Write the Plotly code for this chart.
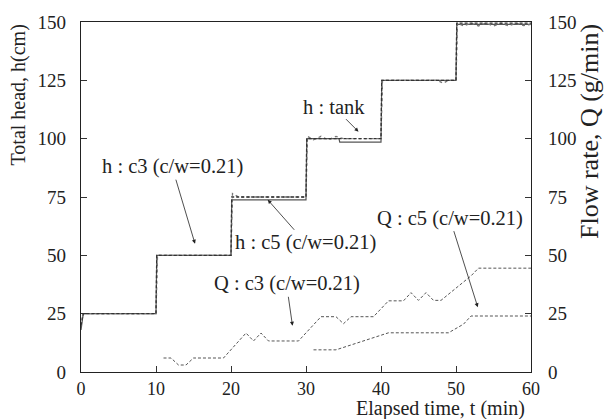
import plotly.graph_objects as go

# ---- data ----
t_tank = [0, 0.3, 10, 10.1, 20, 20.1, 30, 30.1, 34.4, 34.5, 39.8, 40, 40.1, 50, 50.1, 60]
h_tank = [18, 25, 25, 50, 50, 73.8, 73.8, 100, 100, 98.5, 98.5, 98.5, 125, 125, 149, 149]

t_c3 = [0, 0.3, 10, 10.1, 20, 20.1, 30, 30.1, 40, 40.1, 50, 50.1, 60]
h_c3 = [20, 25, 25, 50, 50, 75, 75, 100, 100, 125, 125, 149.5, 149.5]

t_c5 = [0, 0.3, 10, 10.2, 20, 20.2, 21, 30, 30.2, 31, 32, 33, 34, 35, 40, 40.2,
        47.5, 48.3, 49, 50, 50.2, 51, 52, 53, 54, 55, 56, 57, 58, 59, 60]
h_c5 = [20, 25, 25, 50, 50, 76.5, 75, 75, 101, 99.5, 101, 99.5, 101, 100, 100, 125,
        125, 123.8, 125, 125, 149.5, 148.3, 149.5, 148.3, 149.5, 148.3, 149.5, 148.3, 149.5, 148.5, 149]

tq_c3 = [11, 12, 13, 14, 15, 19, 22, 23, 24, 25, 29, 32, 34, 35, 36, 39, 41, 43, 44,
         45, 46, 47, 48, 52, 53, 60]
q_c3 = [6, 6, 3, 3, 6, 6, 16.7, 13.3, 16.7, 13.3, 13.3, 23.7, 23.7, 20.7, 23.7, 23.7,
        30.5, 30.5, 34, 30.7, 34, 30.7, 30.7, 41.2, 44.5, 44.5]

tq_c5 = [31, 34, 41, 49, 51, 52, 60]
q_c5 = [9.5, 9.5, 16.8, 16.8, 20.5, 24, 24]

x_ticks = [0, 10, 20, 30, 40, 50, 60]
y_ticks = [0, 25, 50, 75, 100, 125, 150]

FONT = "Liberation Serif, Times New Roman, DejaVu Serif, serif"
fig = go.Figure()
fig.add_trace(go.Scatter(x=t_tank, y=h_tank, mode="lines",
                         line=dict(color="#555555", width=1.2), name="h : tank"))
fig.add_trace(go.Scatter(x=t_c5, y=h_c5, mode="lines",
                         line=dict(color="#777777", width=1.3, dash="dot"), name="h : c5"))
fig.add_trace(go.Scatter(x=t_c3, y=h_c3, mode="lines",
                         line=dict(color="#333333", width=1.3, dash="3px,2px"), name="h : c3"))
fig.add_trace(go.Scatter(x=tq_c3, y=q_c3, mode="lines", yaxis="y2",
                         line=dict(color="#555555", width=1, dash="3px,2px"), name="Q : c3"))
fig.add_trace(go.Scatter(x=tq_c5, y=q_c5, mode="lines", yaxis="y2",
                         line=dict(color="#555555", width=1, dash="3px,2px"), name="Q : c5"))

axis_common = dict(ticks="inside", ticklen=6, tickwidth=1, tickcolor="#333",
                   showgrid=False, zeroline=False, showline=True, linecolor="#222",
                   linewidth=1.2)
tfont = dict(family=FONT, size=19, color="#222")

fig.update_layout(
    width=604, height=419,
    margin=dict(l=81, r=73, t=17, b=47),
    plot_bgcolor="white", paper_bgcolor="white",
    showlegend=False,
    xaxis=dict(range=[0, 60], tickvals=x_ticks, mirror=True, ticklabelstandoff=0,
               tickfont=dict(family=FONT, size=18, color="#222"), **axis_common),
    yaxis=dict(range=[0, 150], tickvals=y_ticks, ticklabelstandoff=10, tickfont=tfont,
               **axis_common),
    yaxis2=dict(range=[0, 150], tickvals=y_ticks, overlaying="y", side="right",
                ticklabelstandoff=12, tickfont=tfont, **axis_common),
)

ann_font = dict(family=FONT, size=20.5, color="#222")
arrows = [
    ("h : tank", 37.0, 103, -25, -25, "y"),
    ("h : c3 (c/w=0.21)", 15.2, 55, -23, -77, "y"),
    ("h : c5 (c/w=0.21)", 24.9, 73.8, 38, 43, "y"),
    ("Q : c3 (c/w=0.21)", 28.2, 19.8, -6, -42, "y2"),
    ("Q : c5 (c/w=0.21)", 52.9, 27.8, -28, -89, "y2"),
]
for txt, x, y, ax, ay, yref in arrows:
    fig.add_annotation(x=x, y=y, xref="x", yref=yref, text=txt, showarrow=True,
                       ax=ax, ay=ay, arrowhead=2, arrowsize=1, arrowwidth=0.8,
                       arrowcolor="#222", font=ann_font)

fig.add_annotation(text="Total head, h(cm)", xref="paper", yref="paper",
                   x=-0.14, y=1.0, xanchor="center", yanchor="top", textangle=-90,
                   showarrow=False, font=dict(family=FONT, size=20, color="#222"))
fig.add_annotation(text="Flow rate, Q (g/min)", xref="paper", yref="paper",
                   x=1.13, y=1.0, xanchor="center", yanchor="top", textangle=-90,
                   showarrow=False, font=dict(family=FONT, size=26, color="#222"))
fig.add_annotation(text="Elapsed time, t (min)", xref="paper", yref="paper",
                   x=0.991, y=-0.103, xanchor="right", yanchor="middle",
                   showarrow=False, font=dict(family=FONT, size=20, color="#222"))

fig.write_html("out.html")
